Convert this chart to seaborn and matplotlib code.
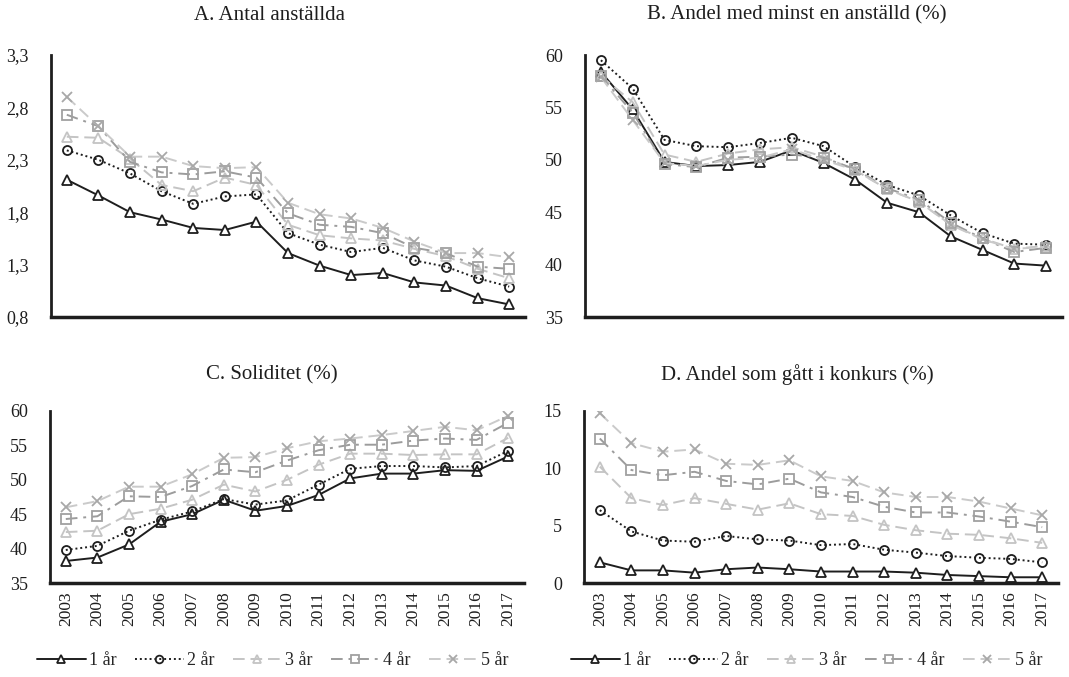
import numpy as np
import pandas as pd
import matplotlib
matplotlib.use("Agg")
import matplotlib.pyplot as plt
import seaborn as sns
from matplotlib.ticker import FuncFormatter

years = list(range(2003, 2018))
groups = ["1 år", "2 år", "3 år", "4 år", "5 år"]

# A. Antal anställda
antal_1 = [2.11, 1.96, 1.80, 1.73, 1.65, 1.63, 1.71, 1.41, 1.29, 1.20, 1.22, 1.13, 1.10, 0.98, 0.92]
antal_2 = [2.39, 2.30, 2.17, 2.00, 1.88, 1.95, 1.97, 1.60, 1.49, 1.42, 1.46, 1.34, 1.28, 1.17, 1.09]
antal_3 = [2.52, 2.51, 2.31, 2.06, 2.00, 2.13, 2.06, 1.68, 1.58, 1.55, 1.53, 1.45, 1.38, 1.26, 1.17]
antal_4 = [2.73, 2.62, 2.28, 2.18, 2.16, 2.19, 2.13, 1.79, 1.68, 1.66, 1.60, 1.46, 1.41, 1.28, 1.26]
antal_5 = [2.90, 2.62, 2.33, 2.33, 2.24, 2.22, 2.23, 1.89, 1.78, 1.74, 1.65, 1.52, 1.41, 1.41, 1.37]

# B. Andel med minst en anställd (%)
andel_1 = [58.4, 54.8, 49.8, 49.4, 49.5, 49.8, 50.9, 49.7, 48.1, 45.9, 45.0, 42.7, 41.4, 40.1, 39.9]
andel_2 = [59.5, 56.8, 51.9, 51.3, 51.2, 51.6, 52.1, 51.3, 49.3, 47.6, 46.6, 44.7, 43.0, 42.0, 41.9]
andel_3 = [58.0, 55.5, 50.5, 49.8, 50.6, 51.0, 51.2, 50.3, 49.0, 47.2, 46.0, 43.8, 42.5, 41.5, 41.8]
andel_4 = [58.0, 54.5, 49.6, 49.3, 50.2, 50.3, 50.5, 50.2, 49.1, 47.3, 46.2, 44.0, 42.5, 41.2, 41.6]
andel_5 = [57.9, 53.8, 49.7, 49.4, 50.0, 50.2, 51.0, 50.0, 49.0, 47.2, 46.0, 43.8, 42.4, 41.5, 41.7]

# C. Soliditet (%)
soli_1 = [38.2, 38.7, 40.6, 43.9, 45.0, 47.1, 45.5, 46.2, 47.8, 50.2, 50.9, 50.9, 51.4, 51.3, 53.4]
soli_2 = [39.8, 40.4, 42.6, 44.2, 45.4, 47.2, 46.4, 47.0, 49.3, 51.6, 52.0, 52.0, 51.8, 52.0, 54.2]
soli_3 = [42.4, 42.6, 45.0, 45.8, 47.1, 49.3, 48.3, 50.0, 52.2, 53.8, 53.8, 53.6, 53.7, 53.7, 56.1]
soli_4 = [44.3, 44.7, 47.6, 47.5, 49.1, 51.5, 51.1, 52.8, 54.3, 55.1, 55.1, 55.7, 56.0, 55.8, 58.3]
soli_5 = [46.0, 46.9, 49.0, 49.0, 50.8, 53.2, 53.3, 54.6, 55.6, 56.0, 56.5, 57.1, 57.7, 57.2, 59.3]

# D. Andel som gått i konkurs (%)
konk_1 = [1.8, 1.1, 1.1, 0.9, 1.2, 1.35, 1.2, 1.0, 1.0, 1.0, 0.9, 0.7, 0.6, 0.5, 0.5]
konk_2 = [6.35, 4.5, 3.7, 3.6, 4.1, 3.8, 3.7, 3.3, 3.4, 2.9, 2.65, 2.35, 2.2, 2.1, 1.8]
konk_3 = [10.15, 7.4, 6.8, 7.4, 6.9, 6.4, 6.95, 6.0, 5.85, 5.07, 4.6, 4.3, 4.2, 3.9, 3.5]
konk_4 = [12.6, 9.85, 9.4, 9.7, 8.9, 8.6, 9.1, 7.9, 7.5, 6.65, 6.15, 6.15, 5.8, 5.35, 4.87]
konk_5 = [14.8, 12.2, 11.45, 11.65, 10.4, 10.3, 10.7, 9.3, 8.9, 7.9, 7.5, 7.5, 7.1, 6.5, 5.9]

sns.set_style("white")
plt.rcParams["font.family"] = ["Liberation Serif", "DejaVu Serif"]

# line look per group: colour, linestyle, marker, marker edge colour
styles = {
    "1 år": dict(color="#1e1e1e", linestyle="-", marker="^", mec="#1e1e1e", mfc="white"),
    "2 år": dict(color="#1e1e1e", linestyle=(0, (1, 1.5)), marker="o", mec="#1e1e1e", mfc="none"),
    "3 år": dict(color="#c4c4c4", linestyle=(0, (6, 3)), marker="^", mec="#c4c4c4", mfc="none"),
    "4 år": dict(color="#9c9c9c", linestyle=(0, (6, 3, 1.5, 3)), marker="s", mec="#a0a0a0", mfc="none"),
    "5 år": dict(color="#cacaca", linestyle=(0, (6, 3)), marker="x", mec="#a8a8a8", mfc="none"),
}

panels = [
    ("A. Antal anställda", [antal_1, antal_2, antal_3, antal_4, antal_5], (0.8, 3.3), [0.8, 1.3, 1.8, 2.3, 2.8, 3.3], True),
    ("B. Andel med minst en anställd (%)", [andel_1, andel_2, andel_3, andel_4, andel_5], (35, 60), [35, 40, 45, 50, 55, 60], False),
    ("C. Soliditet (%)", [soli_1, soli_2, soli_3, soli_4, soli_5], (35, 60), [35, 40, 45, 50, 55, 60], False),
    ("D. Andel som gått i konkurs (%)", [konk_1, konk_2, konk_3, konk_4, konk_5], (0, 15), [0, 5, 10, 15], False),
]

# axes rectangles in pixels: left, top, right, bottom
W, H = 1069, 677
rects = [(51, 55, 525, 317), (585, 55, 1062, 317), (50, 411, 524, 583), (584, 411, 1058, 583)]
title_pos = [(270, 15), (797, 15), (272, 375), (797, 375)]

fig = plt.figure(figsize=(W / 100, H / 100), dpi=100)

for i, (title, series, ylim, yticks, decimal) in enumerate(panels):
    l, t, r, b = rects[i]
    ax = fig.add_axes([l / W, 1 - b / H, (r - l) / W, (b - t) / H])
    for name, vals in zip(groups, series):
        s = styles[name]
        sns.lineplot(x=years, y=vals, ax=ax, color=s["color"], linestyle=s["linestyle"],
                     linewidth=1.4, marker=s["marker"], markersize=6.5,
                     markeredgecolor=s["mec"], markerfacecolor=s["mfc"],
                     markeredgewidth=1.3, label=name)
    ax.set_xlim(2002.5, 2017.5)
    ax.set_ylim(*ylim)
    ax.set_yticks(yticks)
    if decimal:
        ax.yaxis.set_major_formatter(FuncFormatter(lambda v, p: f"{v:.1f}".replace(".", ",")))
    ax.set_xticks(years)
    if i >= 2:
        ax.set_xticklabels([str(y) for y in years], rotation=90)
    else:
        ax.set_xticklabels([])
    ax.tick_params(axis="y", length=0, labelsize=13, colors="#1e1e1e", pad=16)
    ax.tick_params(axis="x", length=0, labelsize=12.5, colors="#1e1e1e", pad=6)
    sns.despine(ax=ax)
    ax.spines["left"].set_linewidth(2)
    ax.spines["bottom"].set_linewidth(2.5)
    ax.spines["left"].set_color("#1e1e1e")
    ax.spines["bottom"].set_color("#1e1e1e")
    ax.set_xlabel("")
    ax.set_ylabel("")
    fig.text(title_pos[i][0] / W, 1 - title_pos[i][1] / H, title, ha="center", va="center",
             fontsize=15, color="#1e1e1e")
    if i >= 2:
        ax.legend(loc="center", bbox_to_anchor=(0.47, -0.45), ncol=5, frameon=False,
                  fontsize=13, handlelength=2.7, handletextpad=0.2, columnspacing=1.0,
                  numpoints=1, markerscale=0.85)
    else:
        ax.get_legend().remove()

fig.savefig("out.png", dpi=100)
